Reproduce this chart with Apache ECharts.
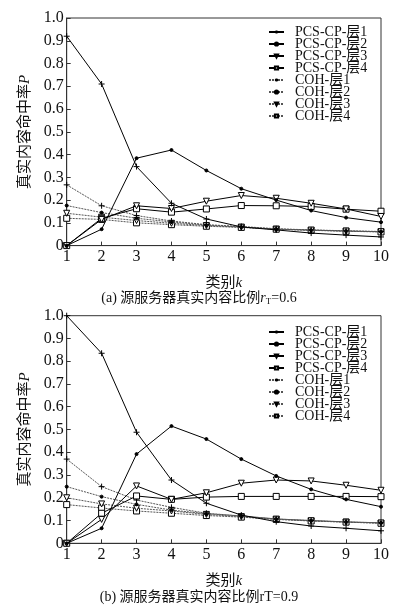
<!DOCTYPE html>
<html>
<head>
<meta charset="utf-8">
<script src="https://cdn.jsdelivr.net/npm/echarts@6/dist/echarts.min.js"></script>
<style>
html, body { margin: 0; padding: 0; background: #fff; }
#chart { width: 398px; height: 607px; }
</style>
</head>
<body>
<div id="chart"></div>
<script>
var classes = [1, 2, 3, 4, 5, 6, 7, 8, 9, 10];
var yTicks = [0, 0.1, 0.2, 0.3, 0.4, 0.5, 0.6, 0.7, 0.8, 0.9, 1.0];
var seriesNames = ["PCS-CP-层1", "PCS-CP-层2", "PCS-CP-层3", "PCS-CP-层4", "COH-层1", "COH-层2", "COH-层3", "COH-层4"];

// (a) rT = 0.6
var pcs1A = [0.92, 0.71, 0.347, 0.186, 0.117, 0.082, 0.069, 0.055, 0.046, 0.038];
var pcs2A = [0, 0.072, 0.384, 0.42, 0.33, 0.25, 0.20, 0.154, 0.123, 0.103];
var pcs3A = [0, 0.115, 0.175, 0.163, 0.195, 0.22, 0.208, 0.186, 0.161, 0.128];
var pcs4A = [0, 0.12, 0.162, 0.147, 0.161, 0.176, 0.175, 0.172, 0.16, 0.151];
var coh1A = [0.267, 0.175, 0.132, 0.108, 0.092, 0.084, 0.074, 0.069, 0.065, 0.062];
var coh2A = [0.176, 0.145, 0.12, 0.104, 0.09, 0.082, 0.073, 0.068, 0.064, 0.061];
var coh3A = [0.142, 0.125, 0.11, 0.098, 0.088, 0.081, 0.072, 0.068, 0.064, 0.061];
var coh4A = [0.12, 0.115, 0.10, 0.092, 0.085, 0.08, 0.072, 0.067, 0.063, 0.06];

// (b) rT = 0.9
var pcs1B = [1.0, 0.835, 0.488, 0.278, 0.176, 0.124, 0.095, 0.076, 0.066, 0.055];
var pcs2B = [0, 0.066, 0.392, 0.515, 0.458, 0.37, 0.296, 0.237, 0.193, 0.161];
var pcs3B = [0, 0.105, 0.252, 0.193, 0.222, 0.264, 0.278, 0.274, 0.255, 0.233];
var pcs4B = [0, 0.132, 0.208, 0.193, 0.203, 0.206, 0.206, 0.206, 0.206, 0.205];
var coh1B = [0.37, 0.249, 0.19, 0.158, 0.132, 0.12, 0.107, 0.1, 0.094, 0.09];
var coh2B = [0.249, 0.205, 0.171, 0.146, 0.13, 0.12, 0.107, 0.1, 0.094, 0.09];
var coh3B = [0.2, 0.173, 0.154, 0.142, 0.127, 0.117, 0.106, 0.099, 0.093, 0.089];
var coh4B = [0.17, 0.155, 0.142, 0.132, 0.122, 0.115, 0.105, 0.098, 0.093, 0.088];

var FONT = "'Liberation Serif', 'Noto Sans CJK SC', serif";
var PLUS = "path://M0,5 L10,5 M5,0 L5,10";

var styles = [
    { symbol: PLUS, size: 6, fill: "#000", dash: "solid" },
    { symbol: "circle", size: 3, fill: "#000", dash: "solid" },
    { symbol: "triangle", size: 6, fill: "#fff", dash: "solid", rotate: 180 },
    { symbol: "rect", size: 6, fill: "#fff", dash: "solid" },
    { symbol: PLUS, size: 6, fill: "#000", dash: [2, 1] },
    { symbol: "circle", size: 3, fill: "#000", dash: [2, 1] },
    { symbol: "triangle", size: 6, fill: "#fff", dash: [2, 1], rotate: 180 },
    { symbol: "rect", size: 6, fill: "#fff", dash: [2, 1] }
];

function pairs(vals) {
    return classes.map(function(k, i) { return [k, vals[i]]; });
}

function makeSeries(list, gridIdx) {
    return list.map(function(vals, i) {
        var st = styles[i];
        return {
            name: seriesNames[i],
            type: "line",
            xAxisIndex: gridIdx,
            yAxisIndex: gridIdx,
            data: pairs(vals),
            symbol: st.symbol,
            symbolSize: st.size,
            symbolRotate: st.rotate || 0,
            symbolKeepAspect: true,
            showAllSymbol: true,
            lineStyle: { color: i < 4 ? "#000" : "#555", width: 1, type: st.dash },
            itemStyle: { color: st.fill, borderColor: "#000", borderWidth: 1 },
            emphasis: { disabled: true },
            animation: false,
            z: 10 - i
        };
    });
}

function makeGrid(top) {
    return { left: 66.7, right: 17, top: top, height: 227.6, show: true, borderColor: "#333", borderWidth: 1, backgroundColor: "transparent" };
}

function makeXAxis(gridIdx) {
    return {
        type: "value", gridIndex: gridIdx, min: 1, max: 10, interval: 1,
        name: "类别{i|k}", nameLocation: "middle", nameGap: 30,
        nameTextStyle: { fontFamily: FONT, fontSize: 15, color: "#111", rich: { i: { fontFamily: FONT, fontStyle: "italic", fontSize: 15, color: "#111" } } },
        axisLine: { lineStyle: { color: "#333" } },
        axisTick: { inside: true, length: 4, lineStyle: { color: "#333" } },
        axisLabel: { fontFamily: FONT, fontSize: 16, color: "#111", margin: 3 },
        splitLine: { show: false }
    };
}

function makeYAxis(gridIdx) {
    return {
        type: "value", gridIndex: gridIdx, min: yTicks[0], max: yTicks[yTicks.length - 1], interval: 0.1,
        name: "真实内容命中率{i|P}", nameLocation: "middle", nameGap: 27,
        nameTextStyle: { fontFamily: FONT, fontSize: 15, color: "#111", rich: { i: { fontFamily: FONT, fontStyle: "italic", fontSize: 15, color: "#111" } } },
        axisLine: { lineStyle: { color: "#333" } },
        axisTick: { inside: true, length: 4, lineStyle: { color: "#333" } },
        axisLabel: {
            fontFamily: FONT, fontSize: 16, color: "#111", margin: 3,
            formatter: function(v) { return v === 0 ? "0" : v.toFixed(1); }
        },
        splitLine: { show: false }
    };
}

function makeLegend(top) {
    return {
        top: top, left: 268, orient: "vertical", padding: 0,
        itemWidth: 15, itemHeight: 4, itemGap: -2,
        data: seriesNames,
        textStyle: { fontFamily: FONT, fontSize: 14, lineHeight: 12, color: "#111", padding: [0, 0, 0, 6] },
        selectedMode: false
    };
}

var chart = echarts.init(document.getElementById("chart"), null, { renderer: "canvas" });

var option = {
    backgroundColor: "#fff",
    animation: false,
    title: [{
        text: "(a) 源服务器真实内容比例{i|r}{s|T}=0.6",
        left: "center", top: 286,
        textStyle: { fontFamily: FONT, fontSize: 14, fontWeight: "normal", color: "#111",
            rich: { i: { fontFamily: FONT, fontStyle: "italic", fontSize: 14, color: "#111" },
                    s: { fontFamily: FONT, fontSize: 9, color: "#111", verticalAlign: "bottom", padding: [6, 0, 0, 0] } } }
    }, {
        text: "(b) 源服务器真实内容比例rT=0.9",
        left: "center", top: 585,
        textStyle: { fontFamily: FONT, fontSize: 14, fontWeight: "normal", color: "#111" }
    }],
    legend: [makeLegend(25), makeLegend(325)],
    grid: [makeGrid(18), makeGrid(315.7)],
    xAxis: [makeXAxis(0), makeXAxis(1)],
    yAxis: [makeYAxis(0), makeYAxis(1)],
    series: makeSeries([pcs1A, pcs2A, pcs3A, pcs4A, coh1A, coh2A, coh3A, coh4A], 0)
        .concat(makeSeries([pcs1B, pcs2B, pcs3B, pcs4B, coh1B, coh2B, coh3B, coh4B], 1))
};

chart.setOption(option);
</script>
</body>
</html>
